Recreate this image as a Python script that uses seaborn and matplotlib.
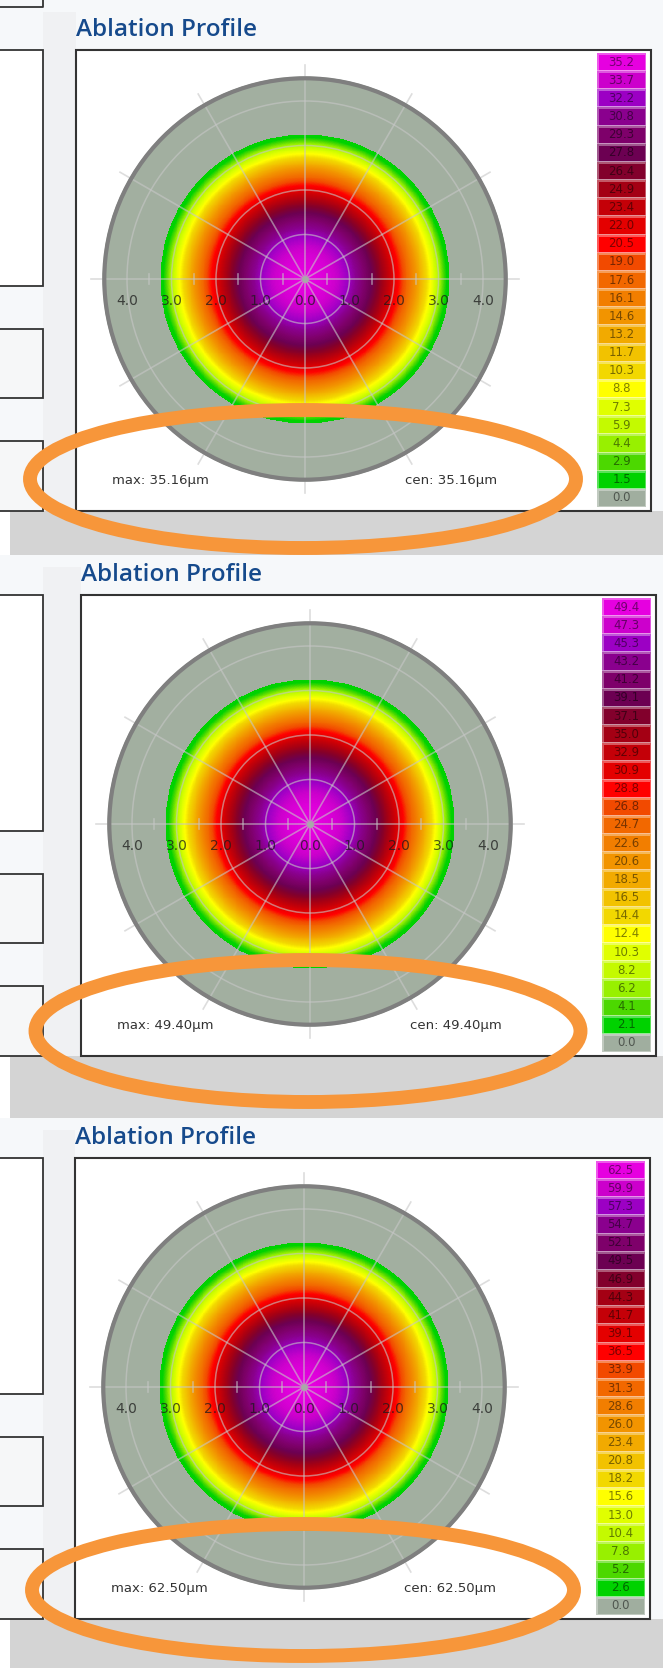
import numpy as np
import matplotlib
matplotlib.use("Agg")
import matplotlib.pyplot as plt
import seaborn as sns
from matplotlib.colors import ListedColormap, LinearSegmentedColormap, Normalize
from matplotlib.patches import Rectangle, Circle, Ellipse

# ---------------------------------------------------------------
# Datos de los tres perfiles de ablacion
max_depth = [35.16, 49.40, 62.50]
cen_depth = [35.16, 49.40, 62.50]

# etiquetas de la escala (de abajo hacia arriba)
scale_1 = ["0.0", "1.5", "2.9", "4.4", "5.9", "7.3", "8.8", "10.3", "11.7", "13.2",
           "14.6", "16.1", "17.6", "19.0", "20.5", "22.0", "23.4", "24.9", "26.4",
           "27.8", "29.3", "30.8", "32.2", "33.7", "35.2"]
scale_2 = ["0.0", "2.1", "4.1", "6.2", "8.2", "10.3", "12.4", "14.4", "16.5", "18.5",
           "20.6", "22.6", "24.7", "26.8", "28.8", "30.9", "32.9", "35.0", "37.1",
           "39.1", "41.2", "43.2", "45.3", "47.3", "49.4"]
scale_3 = ["0.0", "2.6", "5.2", "7.8", "10.4", "13.0", "15.6", "18.2", "20.8", "23.4",
           "26.0", "28.6", "31.3", "33.9", "36.5", "39.1", "41.7", "44.3", "46.9",
           "49.5", "52.1", "54.7", "57.3", "59.9", "62.5"]
scales = [scale_1, scale_2, scale_3]

scale_colors = ["#a0ae9f", "#00d200", "#4cd800", "#98f000", "#c4fa00", "#e0ff00",
                "#ffff00", "#f2d800", "#f2c200", "#f2aa00", "#f29400", "#f27e00",
                "#f26800", "#f24a00", "#ff0000", "#e40000", "#c40008", "#a40014",
                "#82002c", "#6c0052", "#7e006a", "#8a008e", "#9c00c4", "#cc00cc",
                "#e600e0"]

ring_pos = [-4, -3, -2, -1, 0, 1, 2, 3, 4]
ring_labels = ["4.0", "3.0", "2.0", "1.0", "0.0", "1.0", "2.0", "3.0", "4.0"]
zone_radius = 3.25   # mm, zona de ablacion
cornea_radius = 4.55  # mm

# ---------------------------------------------------------------
W, H = 663, 1668
fig = plt.figure(figsize=(W / 100, H / 100), dpi=100)
fig.patch.set_facecolor("white")


def rect(x0, y0, x1, y1):
    return [x0 / W, 1 - y1 / H, (x1 - x0) / W, (y1 - y0) / H]


ax_bg = fig.add_axes([0, 0, 1, 1])
ax_bg.set_xlim(0, W)
ax_bg.set_ylim(H, 0)
ax_bg.axis("off")

ax_top = fig.add_axes([0, 0, 1, 1])
ax_top.set_xlim(0, W)
ax_top.set_ylim(H, 0)
ax_top.axis("off")
ax_top.set_zorder(20)

# desplazamiento de cada captura
offsets = [(0, 0), (5, 545), (-1, 1108)]
panel_tops = [0, 555, 1118]
band_bottoms = [555, 1118, 1668]
ellipses = [(303, 479, 546, 138), (308, 1031, 545, 142), (303, 1590, 542, 132)]

px_mm = 44.5
half = 218

cmap_bar = ListedColormap(scale_colors)

for i in range(3):
    dx, dy = offsets[i]
    top = panel_tops[i]

    # fondo
    ax_bg.add_patch(Rectangle((0, top), W, 511 + dy - top, fc="#f6f8fa", ec="none", zorder=0))
    ax_bg.add_patch(Rectangle((43, top + 12), 33 + dx, 511 + dy - top - 12, fc="#f0f1f3", ec="none", zorder=0))
    ax_bg.add_patch(Rectangle((10, 511 + dy), W, band_bottoms[i] - 511 - dy, fc="#d4d4d4", ec="none", zorder=0))
    ax_bg.add_patch(Rectangle((0, 511 + dy), 10, band_bottoms[i] - 511 - dy, fc="white", ec="none", zorder=0))

    # cajas de la izquierda
    for (b0, b1, fc) in [(50, 286, "white"), (329, 398, "#f6f7f8"), (441, 511, "#f6f7f8")]:
        ax_bg.add_patch(Rectangle((-5, b0 + dy), 48, b1 - b0, fc=fc, ec="#333333", lw=1.3, zorder=1))
    if i == 0:
        ax_bg.plot([0, 43, 43], [7, 7, 0], color="#333333", lw=1.3, zorder=1)

    # titulo
    ax_bg.text(76 + dx, 30 + dy, "Ablation Profile", fontsize=17.5, fontfamily="Open Sans",
               fontweight="semibold", color="#164a8c", ha="left", va="center", zorder=2)

    # caja del grafico
    ax_bg.add_patch(Rectangle((76 + dx, 50 + dy), 575, 461, fc="white", ec="#333333", lw=1.5, zorder=1))

    # mapa polar
    cx, cy = 305 + dx, 279 + dy
    ax = fig.add_axes(rect(cx - half, cy - half, cx + half, cy + half))
    lim = half / px_mm
    ax.set_xlim(-lim, lim)
    ax.set_ylim(-lim, lim)
    ax.axis("off")

    levels = np.array([float(s) for s in scales[i]])
    pos = (levels[1:] - levels[1]) / (levels[-1] - levels[1])
    surf_cmap = LinearSegmentedColormap.from_list("abl", list(zip(pos, scale_colors[1:])))
    surf_cmap.set_under(scale_colors[1])
    surf_cmap.set_over(scale_colors[-1])

    ax.add_patch(Circle((0, 0), cornea_radius, fc="#a2afa0", ec="none", zorder=1))
    g = np.linspace(-zone_radius, zone_radius, 601)
    X, Y = np.meshgrid(g, g)
    Z = max_depth[i] * (1 - (X ** 2 + Y ** 2) / zone_radius ** 2)
    Z = np.ma.masked_less(Z, 0)
    ax.pcolormesh(g, g, Z, cmap=surf_cmap, norm=Normalize(levels[1], levels[-1]),
                  shading="nearest", zorder=2, rasterized=True)

    grid_c = (0.78, 0.78, 0.78, 0.6)
    for r in [1, 2, 3, 4]:
        ax.add_patch(Circle((0, 0), r, fill=False, ec=grid_c, lw=1.1, zorder=3))
    for a in range(0, 180, 30):
        t = np.deg2rad(a)
        ax.plot([-4.8 * np.cos(t), 4.8 * np.cos(t)], [-4.8 * np.sin(t), 4.8 * np.sin(t)],
                color=grid_c, lw=1.2, zorder=3)
    for t in [-3.5, -2.5, -1.5, -0.5, 0.5, 1.5, 2.5, 3.5]:
        ax.plot([t, t], [-0.11, 0.11], color=grid_c, lw=1.2, zorder=3)
    ax.add_patch(Circle((0, 0), cornea_radius - 0.04, fill=False, ec="#7f7f7f", lw=3.0, zorder=4))
    ax.plot([0], [0], "o", ms=4, color="#a8a8a8", zorder=4)

    for p, lab in zip(ring_pos, ring_labels):
        ax.text(p, -0.5, lab, fontsize=10, color=(0.1, 0.1, 0.1, 0.75),
                ha="center", va="center", zorder=5)

    ax.text(-4.34, -4.52, f"max: {max_depth[i]:.2f}\u00b5m", fontsize=9.5,
            color="#333333", ha="left", va="center", zorder=5)
    ax.text(4.31, -4.52, f"cen: {cen_depth[i]:.2f}\u00b5m", fontsize=9.5,
            color="#333333", ha="right", va="center", zorder=5)

    # escala de colores
    ax_cb = fig.add_axes(rect(597 + dx, 53 + dy, 646 + dx, 507 + dy))
    idx = np.arange(len(levels))[::-1].reshape(-1, 1)
    annot = np.array(scales[i])[::-1].reshape(-1, 1)
    sns.heatmap(idx, ax=ax_cb, cmap=cmap_bar, vmin=-0.5, vmax=len(levels) - 0.5,
                annot=annot, fmt="", cbar=False, linewidths=0.8,
                linecolor=(1, 1, 1, 0.35), xticklabels=False, yticklabels=False,
                annot_kws={"fontsize": 8.5, "color": (0, 0, 0, 0.5)})

    # elipse naranja
    ex, ey, ew, eh = ellipses[i]
    ax_top.add_patch(Ellipse((ex, ey), ew, eh, fill=False, ec="#f7963a", lw=10, zorder=5))

fig.savefig("out.png", dpi=100)
